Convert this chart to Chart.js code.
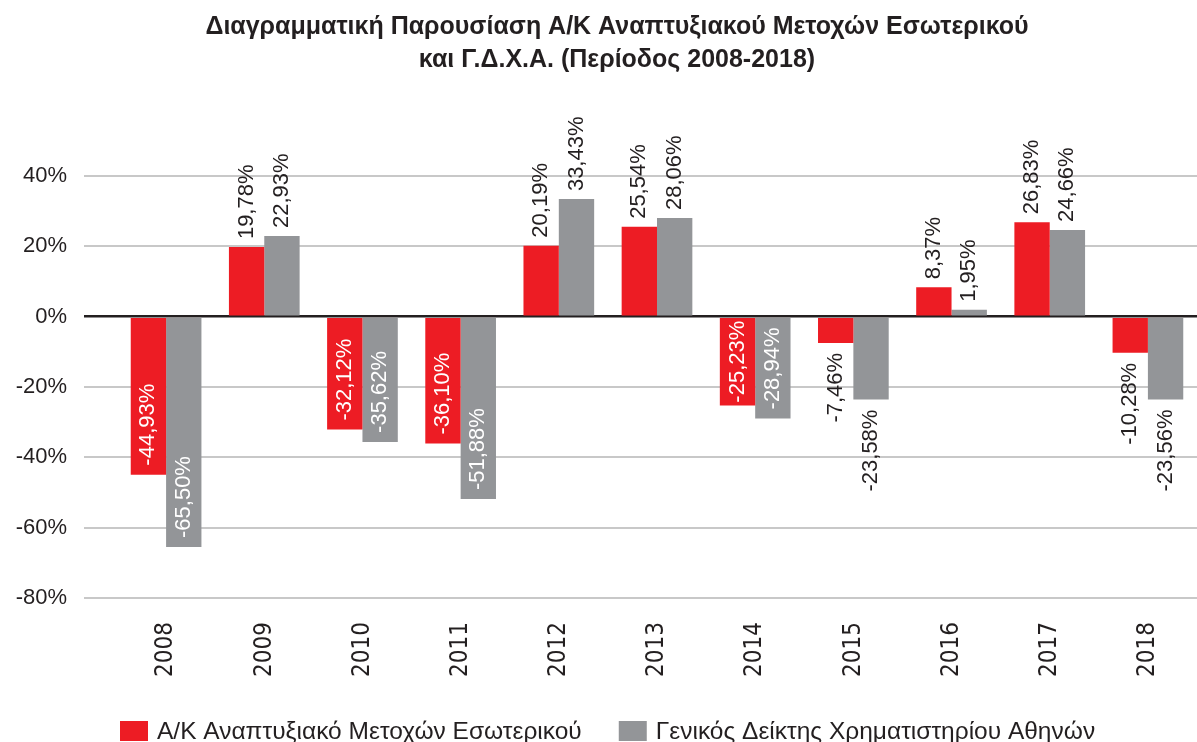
<!DOCTYPE html>
<html>
<head>
<meta charset="utf-8">
<script src="https://cdn.jsdelivr.net/npm/chart.js@4"></script>
<style>
  html, body { margin: 0; padding: 0; background: #fff; }
  #wrap { width: 1197px; height: 742px; }
</style>
</head>
<body>
<div id="wrap"><canvas id="chart" width="1197" height="742"></canvas></div>
<script>
// data
const years = ['2008', '2009', '2010', '2011', '2012', '2013', '2014', '2015', '2016', '2017', '2018'];
const fundReturns = [-44.93, 19.78, -32.12, -36.10, 20.19, 25.54, -25.23, -7.46, 8.37, 26.83, -10.28];
const indexReturns = [-65.50, 22.93, -35.62, -51.88, 33.43, 28.06, -28.94, -23.58, 1.95, 24.66, -23.56];
const seriesNames = ['Α/Κ Αναπτυξιακό Μετοχών Εσωτερικού', 'Γενικός Δείκτης Χρηματιστηρίου Αθηνών'];
const seriesColors = ['#ed1c24', '#939598'];
const titleLines = ['Διαγραμματική Παρουσίαση Α/Κ Αναπτυξιακού Μετοχών Εσωτερικού', 'και Γ.Δ.Χ.Α. (Περίοδος 2008-2018)'];

const FONT = '"Liberation Sans", Arial, sans-serif';
const NARROW = '"Liberation Sans Narrow", "DejaVu Sans Condensed", "Liberation Sans", sans-serif';
const DARK = '#231f20';

function pct(v) {
    return v.toFixed(2).replace('.', ',') + '%';
}

// rotated value labels, inside the bar end when they fit, otherwise outside
const barLabels = {
    id: 'barLabels',
    afterDatasetsDraw(chart) {
        const ctx = chart.ctx;
        ctx.save();
        ctx.font = '22px ' + FONT;
        chart.data.datasets.forEach((ds, di) => {
            const meta = chart.getDatasetMeta(di);
            meta.data.forEach((bar, i) => {
                const v = ds.data[i];
                const txt = pct(v);
                const w = ctx.measureText(txt).width;
                const len = Math.abs(bar.y - bar.base);
                let start, color;
                if (v >= 0) {
                    start = bar.y - 8;
                    color = DARK;
                } else if (w + 5 <= len) {
                    start = bar.y - Math.min(9, (len - w) / 2);
                    color = '#fff';
                } else {
                    start = bar.y + 10 + w;
                    color = DARK;
                }
                ctx.save();
                ctx.translate(bar.x, start);
                ctx.rotate(-Math.PI / 2);
                ctx.fillStyle = color;
                ctx.textAlign = 'left';
                ctx.textBaseline = 'middle';
                ctx.fillText(txt, 0, 0);
                ctx.restore();
            });
        });
        ctx.restore();
    }
};

// title and legend drawn by hand so they sit where the original ones do
const titleAndLegend = {
    id: 'titleAndLegend',
    afterDraw(chart) {
        const ctx = chart.ctx;
        ctx.save();
        ctx.fillStyle = DARK;
        ctx.textAlign = 'center';
        ctx.textBaseline = 'alphabetic';
        ctx.font = 'bold 25px ' + FONT;
        ctx.fillText(titleLines[0], 617, 34);
        ctx.fillText(titleLines[1], 617, 67);

        ctx.font = '24.5px ' + FONT;
        ctx.textBaseline = 'middle';
        ctx.textAlign = 'left';
        let x = 120;
        const y = 721;
        seriesNames.forEach((name, i) => {
            ctx.fillStyle = seriesColors[i];
            ctx.fillRect(x, y, 28, 20);
            ctx.fillStyle = DARK;
            ctx.fillText(name, x + 37, y + 11);
            x += 37 + ctx.measureText(name).width + 37;
        });
        ctx.restore();
    }
};

const gridColor = c => c.tick && c.tick.value === 0 ? '#231f20' : '#c8c8c8';

new Chart(document.getElementById('chart').getContext('2d'), {
    type: 'bar',
    data: {
        labels: years,
        datasets: [{
            label: seriesNames[0],
            data: fundReturns,
            backgroundColor: seriesColors[0],
            categoryPercentage: 0.72,
            barPercentage: 1.0
        }, {
            label: seriesNames[1],
            data: indexReturns,
            backgroundColor: seriesColors[1],
            categoryPercentage: 0.72,
            barPercentage: 1.0
        }]
    },
    options: {
        responsive: false,
        animation: false,
        layout: { padding: { left: 0, right: 0, top: 176, bottom: 44 } },
        plugins: {
            title: { display: false },
            legend: { display: false },
            tooltip: { enabled: false }
        },
        scales: {
            x: {
                afterFit(scale) { scale.height = 100; },
                grid: { display: false },
                border: { display: false },
                ticks: {
                    color: DARK,
                    font: { family: NARROW, size: 24 },
                    minRotation: 90,
                    maxRotation: 90,
                    padding: 16
                }
            },
            y: {
                min: -80,
                max: 40,
                afterFit(scale) { scale.width = 117; },
                border: { display: false },
                grid: {
                    color: gridColor,
                    tickColor: gridColor,
                    lineWidth: c => c.tick && c.tick.value === 0 ? 2.5 : 2,
                    tickLength: 33
                },
                ticks: {
                    stepSize: 20,
                    color: DARK,
                    font: { family: FONT, size: 22 },
                    padding: 17,
                    callback: v => v + '%'
                }
            }
        }
    },
    plugins: [barLabels, titleAndLegend]
});
</script>
</body>
</html>
